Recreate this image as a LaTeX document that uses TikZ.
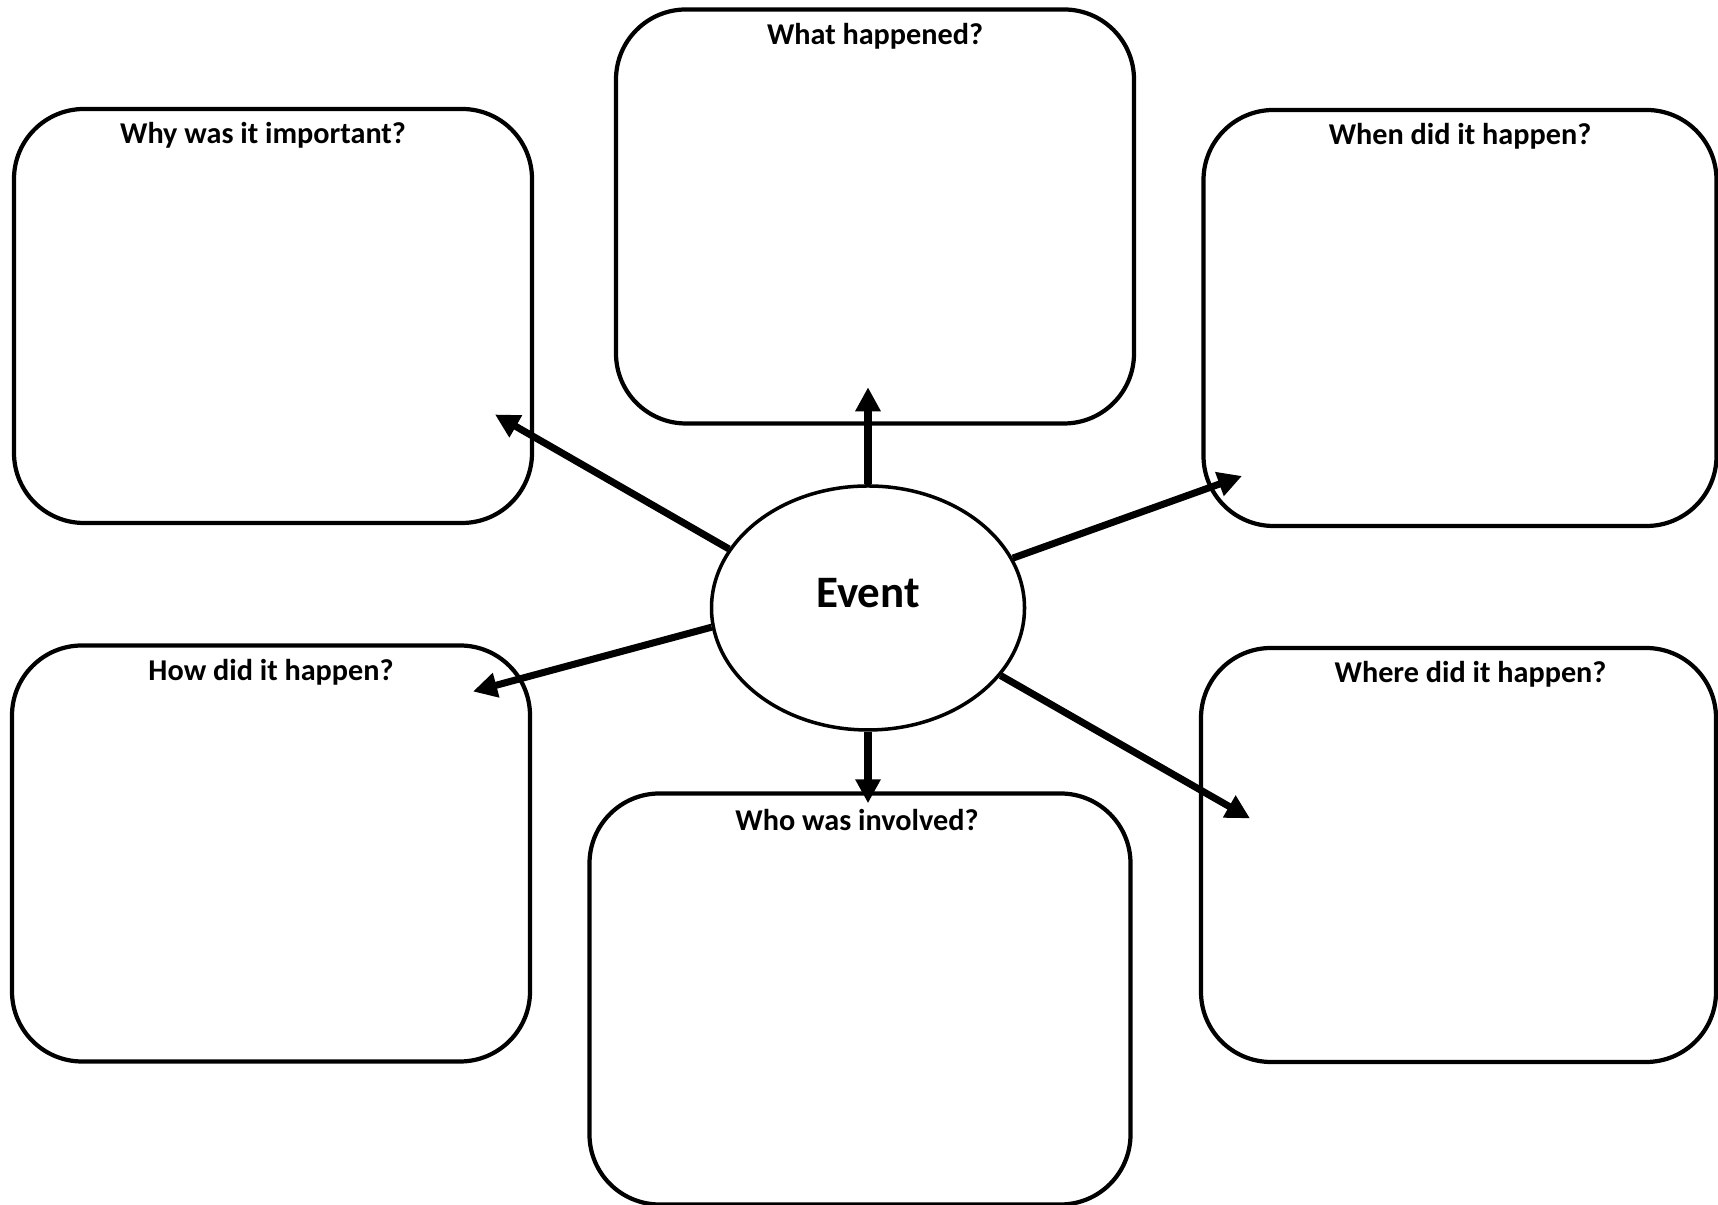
\documentclass[tikz,border=0pt]{standalone}
\usepackage{fontspec}
\setmainfont{Carlito}
\usetikzlibrary{positioning,arrows.meta,shapes.geometric}

\begin{document}
\begin{tikzpicture}
[qbox/.style={draw, line width=1.2pt, rounded corners=0.7cm, minimum width=5.18cm, minimum height=4.14cm},
 qtitle/.style={inner sep=0pt, font=\fontsize{8.6}{10}\selectfont\bfseries},
 hub/.style={draw, ellipse, line width=1pt, minimum width=3.13cm, minimum height=2.44cm,
   text height=0.3cm, text depth=0.3cm, font=\fontsize{12.8}{15}\selectfont\bfseries},
 arr/.style={line width=2pt, -{Triangle[length=0.24cm, width=0.24cm]}}]
\useasboundingbox (0,0) rectangle (17.18,12.05);
% Define the question boxes
\node[qbox] (why) at (2.73,8.89) {};
\node[qbox] (what) at (8.75,9.885) {};
\node[qbox, minimum width=5.13cm, minimum height=4.16cm] (when) at (14.6,8.87) {};
\node[qbox, minimum height=4.16cm] (how) at (2.71,3.515) {};
\node[qbox, minimum width=5.41cm, minimum height=4.11cm] (who) at (8.60,2.06) {};
\node[qbox, minimum width=5.15cm] (where) at (14.585,3.50) {};

\node[qtitle, below=0.15cm of why.north, xshift=-0.1cm] {Why was it important?};
\node[qtitle, below=0.15cm of what.north] {What happened?};
\node[qtitle, below=0.15cm of when.north] {When did it happen?};
\node[qtitle, below=0.15cm of how.north] {How did it happen?};
\node[qtitle, below=0.17cm of who.north, xshift=-0.03cm] {Who was involved?};
\node[qtitle, below=0.15cm of where.north, xshift=0.12cm] {Where did it happen?};

% The event in the middle
\node[hub] (event) at (8.68,5.97) {Event};

\coordinate (whattip) at (8.68,8.177);
\coordinate (whotip) at (8.68,4.017);
\coordinate (whytip) at (4.95,7.905);
\coordinate (whentip) at (12.42,7.29);
\coordinate (howtip) at (4.73,5.135);
\coordinate (wheretip) at (12.50,3.866);

\draw[arr] (event.north) -- (whattip);
\draw[arr] (event.south) -- (whotip);
\draw[arr] (event.157) -- (whytip);
\draw[arr] (event.19) -- (whentip);
\draw[arr] (event.187) -- (howtip);
\draw[arr] (event.333) -- (wheretip);
\end{tikzpicture}
\end{document}
